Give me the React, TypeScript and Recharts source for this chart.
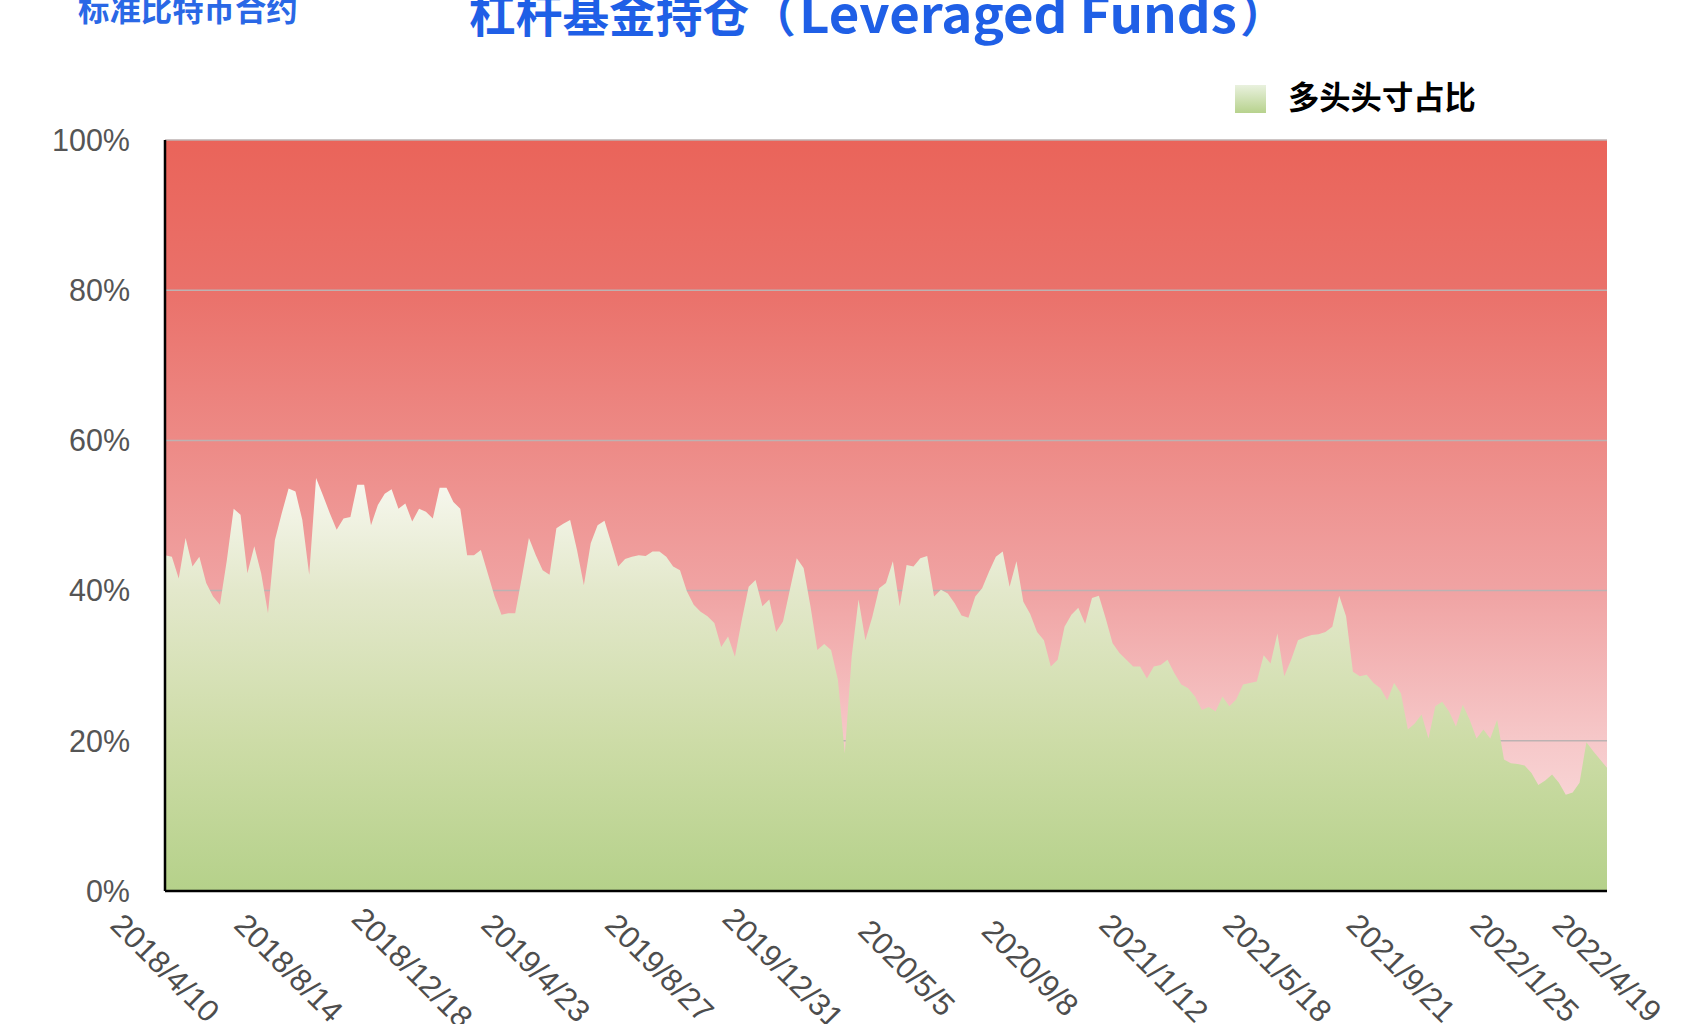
import { AreaChart, Area, XAxis, YAxis, CartesianGrid } from "recharts";

// leveraged funds: long share of (long + short), weekly, %
const long2018 = [
  44.7, 44.5, 41.6, 47.0, 43.2, 44.5, 41.0, 39.2, 38.1, 44.0,
  50.9, 50.1, 42.3, 45.9, 42.3, 37.0, 46.7, 50.3, 53.6, 53.2,
  49.4, 42.1, 55.0, 52.7, 50.3, 48.1, 49.6, 49.8, 54.1, 54.1,
  48.7, 51.4, 52.9, 53.5, 50.9, 51.6, 49.2, 50.9,
];
const long2019 = [
  50.5, 49.6, 53.7, 53.7, 51.8, 50.9, 44.7, 44.7, 45.4, 42.3,
  39.2, 36.8, 37.0, 37.0, 41.9, 47.0, 44.7, 42.7, 42.1, 48.3,
  48.9, 49.4, 45.4, 40.7, 46.3, 48.7, 49.3, 46.3, 43.2, 44.2,
  44.5, 44.7, 44.6, 45.2, 45.2, 44.5, 43.2, 42.7, 39.9, 38.1,
  37.2, 36.6, 35.7, 32.5, 33.9, 31.2, 36.1, 40.5, 41.4, 37.9,
  38.8, 34.5, 35.9,
];
const long2020 = [
  40.1, 44.3, 43.0, 37.9, 32.1, 32.9, 32.1, 28.1, 18.3, 31.2,
  38.8, 33.4, 36.5, 40.3, 41.0, 43.9, 37.9, 43.4, 43.2, 44.3,
  44.6, 39.2, 40.1, 39.6, 38.3, 36.7, 36.4, 39.2, 40.3, 42.5,
  44.5, 45.2, 40.5, 43.9, 38.5, 36.9, 34.5, 33.4, 29.9, 30.8,
  35.2, 36.8, 37.7, 35.6, 39.0, 39.3, 36.3, 33.0, 31.7, 30.8,
  29.9, 29.9,
];
const long2021 = [
  28.3, 29.9, 30.1, 30.8, 29.0, 27.5, 27.0, 25.9, 24.1, 24.5,
  23.9, 25.9, 24.6, 25.5, 27.5, 27.7, 27.9, 31.4, 30.3, 34.3,
  28.6, 30.8, 33.4, 33.8, 34.1, 34.2, 34.5, 35.2, 39.3, 36.6,
  29.2, 28.6, 28.8, 27.7, 27.0, 25.4, 27.7, 26.3, 21.5, 22.3,
  23.5, 20.3, 24.6, 25.2, 23.9, 21.9, 24.8, 22.8, 20.3, 21.5,
  20.3, 22.8,
];
const long2022 = [
  17.5, 17.0, 16.9, 16.7, 15.7, 14.1, 14.7, 15.5, 14.4, 12.8,
  13.1, 14.4, 19.8, 18.6, 17.5, 16.4,
];

const longShare = [...long2018, ...long2019, ...long2020, ...long2021, ...long2022];

const dateTicks = [
  "2018/4/10", "2018/8/14", "2018/12/18", "2019/4/23", "2019/8/27",
  "2019/12/31", "2020/5/5", "2020/9/8", "2021/1/12", "2021/5/18",
  "2021/9/21", "2022/1/25", "2022/4/19",
];

const pctTicks = [0, 20, 40, 60, 80, 100];

// COT reports come out every Tuesday, starting 2018/4/10
const firstWeek = Date.UTC(2018, 3, 10);
const weekLabel = (i: number) => {
  const d = new Date(firstWeek + i * 7 * 86400000);
  return `${d.getUTCFullYear()}/${d.getUTCMonth() + 1}/${d.getUTCDate()}`;
};

const data = longShare.map((v, i) => ({ week: weekLabel(i), long: v }));

const tickFont = '"Liberation Sans", Arial, Helvetica, sans-serif';
const cjkFont = '"Noto Sans CJK SC", "Noto Sans", sans-serif';

const DateTick = ({ x, y, payload }: any) => {
  const cy = y + 77;
  return (
    <text
      x={x}
      y={cy}
      transform={`rotate(45 ${x} ${cy})`}
      textAnchor="middle"
      dominantBaseline="central"
      fontSize={31}
      fontFamily={tickFont}
      fill="#4d4d4d"
    >
      {payload.value}
    </text>
  );
};

export default function App() {
  return (
    <div style={{ position: "absolute", left: 0, top: 0, width: 1702, height: 1024, background: "#fff" }}>
      <AreaChart width={1702} height={1024} data={data} margin={{ top: 140, right: 95, bottom: 0, left: 0 }}>
        <defs>
          <linearGradient id="bgRed" x1="0" y1="0" x2="0" y2="1">
            <stop offset="0" stopColor="#ea645a" />
            <stop offset="0.2" stopColor="#ea716a" />
            <stop offset="0.4" stopColor="#ed8a86" />
            <stop offset="0.6" stopColor="#f0a3a3" />
            <stop offset="0.8" stopColor="#f6c8c9" />
            <stop offset="1" stopColor="#fbe6e6" />
          </linearGradient>
          <linearGradient id="greenFill" gradientUnits="userSpaceOnUse" x1="0" y1="140" x2="0" y2="891">
            <stop offset="0.44" stopColor="#f9f9f2" />
            <stop offset="0.6" stopColor="#e3e8cb" />
            <stop offset="0.8" stopColor="#cddca7" />
            <stop offset="1" stopColor="#b5d18a" />
          </linearGradient>
        </defs>
        <CartesianGrid vertical={false} stroke="#bcb2b2" strokeWidth={1.5} fill="url(#bgRed)" fillOpacity={1} />
        <XAxis
          dataKey="week"
          ticks={dateTicks}
          interval={0}
          tick={DateTick}
          tickLine={false}
          tickSize={0}
          tickMargin={0}
          height={133}
          axisLine={{ stroke: "#000", strokeWidth: 2.5 }}
        />
        <YAxis
          domain={[0, 100]}
          ticks={pctTicks}
          interval={0}
          width={165}
          tickFormatter={(v: number) => `${v}%`}
          tick={{ fontSize: 30.5, fill: "#555", fontFamily: tickFont }}
          tickLine={false}
          tickSize={0}
          tickMargin={35}
          axisLine={{ stroke: "#000", strokeWidth: 2.5 }}
        />
        <Area
          type="linear"
          dataKey="long"
          stroke="none"
          fill="url(#greenFill)"
          fillOpacity={1}
          dot={false}
          activeDot={false}
          isAnimationActive={false}
        />
      </AreaChart>
      <svg width={1702} height={140} style={{ position: "absolute", left: 0, top: 0, pointerEvents: "none" }}>
        <defs>
          <linearGradient id="legendSwatch" x1="0" y1="0" x2="0" y2="1">
            <stop offset="0" stopColor="#e9f1de" />
            <stop offset="1" stopColor="#b7d28d" />
          </linearGradient>
        </defs>
        <text x={78} y={21} fontSize={31.4} fontWeight={700} fontFamily={cjkFont} fill="#2a68e6">
          标准比特币合约
        </text>
        <text x={469} y={32} fontSize={46.7} fontWeight={700} fontFamily={cjkFont} fill="#1f5fe6">
          杠杆基金持仓（
        </text>
        <text
          x={799}
          y={33}
          fontSize={50}
          fontWeight={700}
          fontFamily={cjkFont}
          fill="#1f5fe6"
          textLength={438}
          lengthAdjust="spacingAndGlyphs"
        >
          Leveraged Funds
        </text>
        <text x={1240} y={32} fontSize={46.7} fontWeight={700} fontFamily={cjkFont} fill="#1f5fe6">
          ）
        </text>
        <rect x={1235} y={85} width={31} height={28} fill="url(#legendSwatch)" />
        <text x={1288} y={109} fontSize={31.3} fontWeight={700} fontFamily={cjkFont} fill="#000">
          多头头寸占比
        </text>
      </svg>
    </div>
  );
}
